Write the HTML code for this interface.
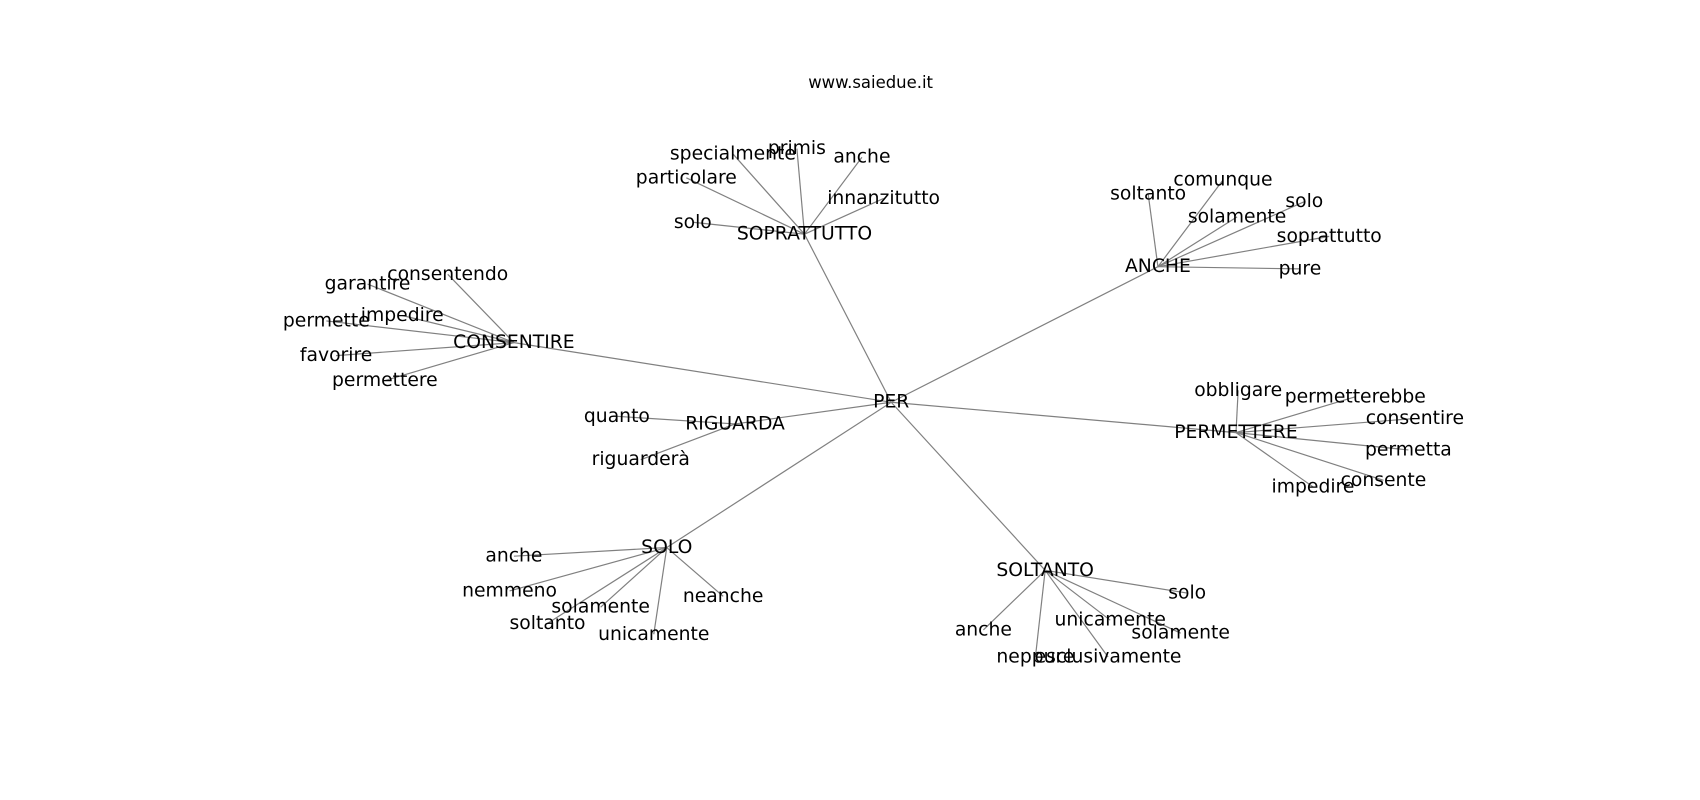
<!DOCTYPE html>
<html><head><meta charset="utf-8"><style>html,body{margin:0;padding:0;background:#fff}svg{display:block}</style></head>
<body>
<svg width="1700" height="800" viewBox="0 0 1700 800" xmlns="http://www.w3.org/2000/svg">
<g transform="scale(1.0842)" font-family="DejaVu Sans, Liberation Sans, sans-serif" text-anchor="middle" dominant-baseline="central">
<g stroke="#808080" stroke-width="1.1" fill="none">
<line x1="822" y1="371" x2="742" y2="216"/>
<line x1="822" y1="371" x2="1068" y2="246"/>
<line x1="822" y1="371" x2="474" y2="316"/>
<line x1="822" y1="371" x2="678" y2="391"/>
<line x1="822" y1="371" x2="1140" y2="399"/>
<line x1="822" y1="371" x2="615" y2="505"/>
<line x1="822" y1="371" x2="964" y2="526"/>
<line x1="742" y1="216" x2="676" y2="142"/><line x1="742" y1="216" x2="735" y2="137"/><line x1="742" y1="216" x2="795" y2="145"/><line x1="742" y1="216" x2="633" y2="164"/><line x1="742" y1="216" x2="815" y2="183"/><line x1="742" y1="216" x2="639" y2="205"/>
<line x1="1068" y1="246" x2="1059" y2="179"/><line x1="1068" y1="246" x2="1128" y2="166"/><line x1="1068" y1="246" x2="1203" y2="186"/><line x1="1068" y1="246" x2="1141" y2="200"/><line x1="1068" y1="246" x2="1226" y2="218"/><line x1="1068" y1="246" x2="1199" y2="248"/>
<line x1="474" y1="316" x2="413" y2="253"/><line x1="474" y1="316" x2="339" y2="262"/><line x1="474" y1="316" x2="371" y2="291"/><line x1="474" y1="316" x2="301" y2="296"/><line x1="474" y1="316" x2="310" y2="328"/><line x1="474" y1="316" x2="355" y2="351"/>
<line x1="678" y1="391" x2="569" y2="384"/><line x1="678" y1="391" x2="591" y2="424"/>
<line x1="1140" y1="399" x2="1142" y2="360"/><line x1="1140" y1="399" x2="1250" y2="366"/><line x1="1140" y1="399" x2="1305" y2="386"/><line x1="1140" y1="399" x2="1299" y2="415"/><line x1="1140" y1="399" x2="1276" y2="443"/><line x1="1140" y1="399" x2="1211" y2="449"/>
<line x1="615" y1="505" x2="474" y2="513"/><line x1="615" y1="505" x2="470" y2="545"/><line x1="615" y1="505" x2="554" y2="560"/><line x1="615" y1="505" x2="505" y2="575"/><line x1="615" y1="505" x2="603" y2="585"/><line x1="615" y1="505" x2="667" y2="550"/>
<line x1="964" y1="526" x2="1095" y2="547"/><line x1="964" y1="526" x2="1024" y2="572"/><line x1="964" y1="526" x2="1089" y2="584"/><line x1="964" y1="526" x2="907" y2="581"/><line x1="964" y1="526" x2="955" y2="606"/><line x1="964" y1="526" x2="1022" y2="606"/>
</g>
<text x="803" y="76" font-size="15.2">www.saiedue.it</text>
<g font-size="17.3" fill="#000">
<text x="822" y="371">PER</text>
<text x="742" y="216">SOPRATTUTTO</text>
<text x="676" y="142">specialmente</text><text x="735" y="137">primis</text><text x="795" y="145">anche</text><text x="633" y="164">particolare</text><text x="815" y="183">innanzitutto</text><text x="639" y="205">solo</text>
<text x="1068" y="246">ANCHE</text>
<text x="1059" y="179">soltanto</text><text x="1128" y="166">comunque</text><text x="1203" y="186">solo</text><text x="1141" y="200">solamente</text><text x="1226" y="218">soprattutto</text><text x="1199" y="248">pure</text>
<text x="474" y="316">CONSENTIRE</text>
<text x="413" y="253">consentendo</text><text x="339" y="262">garantire</text><text x="371" y="291">impedire</text><text x="301" y="296">permette</text><text x="310" y="328">favorire</text><text x="355" y="351">permettere</text>
<text x="678" y="391">RIGUARDA</text>
<text x="569" y="384">quanto</text><text x="591" y="424">riguarderà</text>
<text x="1140" y="399">PERMETTERE</text>
<text x="1142" y="360">obbligare</text><text x="1250" y="366">permetterebbe</text><text x="1305" y="386">consentire</text><text x="1299" y="415">permetta</text><text x="1276" y="443">consente</text><text x="1211" y="449">impedire</text>
<text x="615" y="505">SOLO</text>
<text x="474" y="513">anche</text><text x="470" y="545">nemmeno</text><text x="554" y="560">solamente</text><text x="505" y="575">soltanto</text><text x="603" y="585">unicamente</text><text x="667" y="550">neanche</text>
<text x="964" y="526">SOLTANTO</text>
<text x="1095" y="547">solo</text><text x="1024" y="572">unicamente</text><text x="1089" y="584">solamente</text><text x="907" y="581">anche</text><text x="955" y="606">neppure</text><text x="1022" y="606">esclusivamente</text>
</g>
</g>
</svg>
</body></html>
